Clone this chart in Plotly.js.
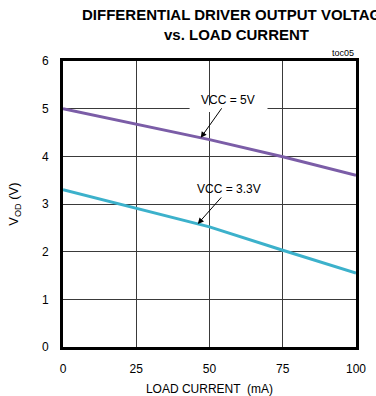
<!DOCTYPE html>
<html>
<head>
<meta charset="utf-8">
<script src="https://cdn.plot.ly/plotly-3.0.1.min.js"></script>
<style>
  html, body { margin: 0; padding: 0; background: #fff; }
  #chart { width: 376px; height: 396px; }
</style>
</head>
<body>
<div id="chart"></div>
<script>
// Load current (mA)
const loadCurrent = [0, 25, 50, 75, 100];
// Differential output voltage (V) for each supply
const vod5V = [5.0, 4.67, 4.35, 3.99, 3.6];
const vod33V = [3.3, 2.91, 2.52, 2.03, 1.55];
const xTicks = [0, 25, 50, 75, 100];
const yTicks = [0, 1, 2, 3, 4, 5, 6];

const sans = '"Liberation Sans", Arial, sans-serif';

const traces = [
  { x: loadCurrent, y: vod5V, mode: 'lines', line: { color: '#7b5da7', width: 3 }, hoverinfo: 'none' },
  { x: loadCurrent, y: vod33V, mode: 'lines', line: { color: '#3cb1cb', width: 3 }, hoverinfo: 'none' }
];

// linear lookup along a curve, used to pin the arrow tips onto the lines
function at(arr, x) {
  const i = loadCurrent.findIndex((v, k) => x >= v && x <= loadCurrent[k + 1]);
  const t = (x - loadCurrent[i]) / (loadCurrent[i + 1] - loadCurrent[i]);
  return arr[i] + t * (arr[i + 1] - arr[i]);
}

const labelFont = { family: sans, size: 12, color: '#000' };

const layout = {
  width: 376, height: 396,
  margin: { l: 63, r: 20, t: 61, b: 49 },
  paper_bgcolor: '#fff', plot_bgcolor: '#fff',
  showlegend: false,
  xaxis: {
    range: [0, 100], tickvals: xTicks, ticktext: xTicks.map(String),
    showgrid: true, gridcolor: '#3a3a3a', gridwidth: 1,
    zeroline: false, showline: true, linecolor: '#000', linewidth: 3, mirror: true,
    ticks: '', ticklabelstandoff: 9, tickfont: { family: sans, size: 12, color: '#000' },
    title: { text: 'LOAD CURRENT  (mA)', font: { family: sans, size: 12, color: '#000' }, standoff: 10 }
  },
  yaxis: {
    range: [0, 6], tickvals: yTicks, ticktext: yTicks.map(String),
    showgrid: true, gridcolor: '#3a3a3a', gridwidth: 1,
    zeroline: false, showline: true, linecolor: '#000', linewidth: 3, mirror: true,
    ticks: '', ticklabelstandoff: 9, tickfont: { family: sans, size: 12, color: '#000' },
    title: { text: 'V<sub>OD</sub> (V)', font: { family: sans, size: 13, color: '#000' }, standoff: 21 }
  },
  shapes: [
    // white gap in the 5 V gridline behind the "VCC = 5V" label
    { type: 'rect', xref: 'x', yref: 'y', x0: 43.2, x1: 69.8, y0: 4.93, y1: 5.07,
      fillcolor: '#fff', line: { width: 0 }, layer: 'between' }
  ],
  annotations: [
    {
      x: 0.592, y: 1, xref: 'paper', yref: 'paper', xanchor: 'center', yanchor: 'bottom',
      text: '<b>DIFFERENTIAL DRIVER OUTPUT VOLTAGE</b>', showarrow: false, yshift: 36,
      font: { family: sans, size: 15, color: '#000' }
    },
    {
      x: 0.592, y: 1, xref: 'paper', yref: 'paper', xanchor: 'center', yanchor: 'bottom',
      text: '<b>vs. LOAD CURRENT</b>', showarrow: false, yshift: 16,
      font: { family: sans, size: 15, color: '#000' }
    },
    {
      x: 47, y: at(vod5V, 47), xref: 'x', yref: 'y',
      text: 'VCC = 5V', showarrow: true, arrowhead: 2, arrowsize: 1.2, arrowwidth: 1, arrowcolor: '#000',
      ax: 27, ay: -38, font: labelFont
    },
    {
      x: 46, y: at(vod33V, 46), xref: 'x', yref: 'y',
      text: 'VCC = 3.3V', showarrow: true, arrowhead: 2, arrowsize: 1.2, arrowwidth: 1, arrowcolor: '#000',
      ax: 31, ay: -35, font: labelFont
    },
    {
      x: 1, y: 1, xref: 'paper', yref: 'paper', xanchor: 'right', yanchor: 'bottom',
      text: 'toc05', showarrow: false, yshift: 1,
      font: { family: sans, size: 9, color: '#000' }
    }
  ]
};

Plotly.newPlot('chart', traces, layout, { staticPlot: true, displayModeBar: false });
</script>
</body>
</html>
